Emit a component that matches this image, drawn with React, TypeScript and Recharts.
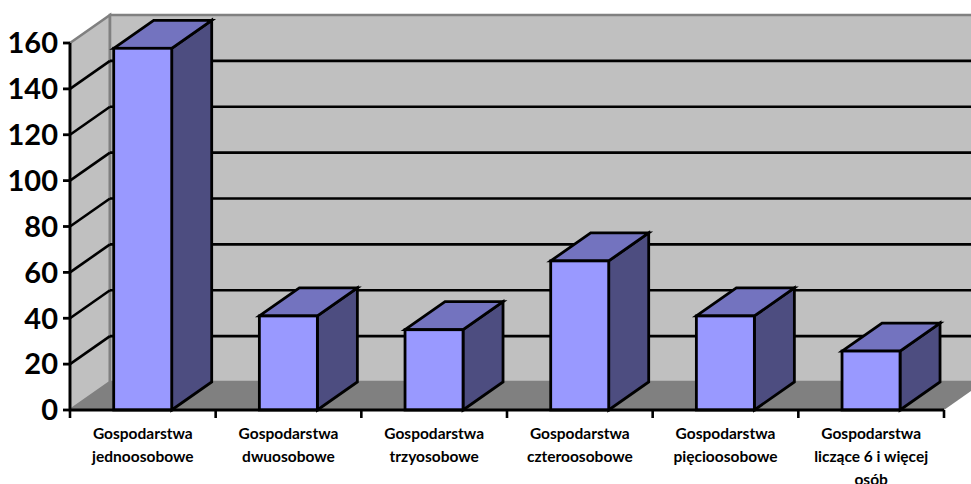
import React from "react";
import { BarChart, Bar, XAxis, YAxis, CartesianGrid } from "recharts";

const categories = [
  ["Gospodarstwa", "jednoosobowe"],
  ["Gospodarstwa", "dwuosobowe"],
  ["Gospodarstwa", "trzyosobowe"],
  ["Gospodarstwa", "czteroosobowe"],
  ["Gospodarstwa", "pięcioosobowe"],
  ["Gospodarstwa", "liczące 6 i więcej", "osób"],
];
const values = [157.7, 41, 35, 65, 41, 25.7];
const yTicks = [0, 20, 40, 60, 80, 100, 120, 140, 160];

const data = categories.map((lines, i) => ({ name: lines.join(" "), lines, value: values[i] }));

const W = 971, H = 484;
const M = { top: 43, right: 27, bottom: 74, left: 70 };
const DX = 40, DY = 28;
const FONT = "Lato, Carlito, 'Open Sans', sans-serif";
const left = M.left, right = W - M.right, top = M.top, bottom = H - M.bottom;
const band = (right - left) / categories.length;

const Walls = () => (
  <g>
    <polygon points={`${left},${top} ${left + DX},${top - DY} ${left + DX},${bottom - DY} ${left},${bottom}`} fill="#C0C0C0" stroke="#808080" strokeWidth={2.6} />
    <polygon points={`${left + DX},${top - DY} ${W + 10},${top - DY} ${W + 10},${bottom - DY} ${left + DX},${bottom - DY}`} fill="#C0C0C0" stroke="#808080" strokeWidth={2.6} />
    <polygon points={`${left},${bottom} ${left + DX},${bottom - DY} ${right + DX},${bottom - DY} ${right},${bottom}`} fill="#808080" />
  </g>
);

const Grid = (p: any) => {
  const { y1, index } = p;
  const isTop = Math.abs(y1 - top) < 1;
  const isBottom = Math.abs(y1 - bottom) < 1;
  return (
    <g key={index}>
      {index === 0 && <Walls />}
      {!isTop && !isBottom && (
        <>
          <line x1={left} y1={y1} x2={left + DX} y2={y1 - DY} stroke="#000" strokeWidth={2.6} />
          <line x1={left + DX} y1={y1 - DY} x2={W + 10} y2={y1 - DY} stroke="#000" strokeWidth={2.6} />
        </>
      )}
    </g>
  );
};

const Box = (p: any) => {
  const { x, y, width: w, height: h } = p;
  return (
    <g stroke="#000" strokeWidth={2.8} strokeLinejoin="miter">
      <polygon points={`${x + w},${y} ${x + w + DX},${y - DY} ${x + w + DX},${y + h - DY} ${x + w},${y + h}`} fill="#4D4D80" />
      <polygon points={`${x},${y} ${x + DX},${y - DY} ${x + w + DX},${y - DY} ${x + w},${y}`} fill="#7373BF" />
      <rect x={x} y={y} width={w} height={h} fill="#9999FF" />
    </g>
  );
};

const XTick = (p: any) => {
  const { x, payload, index } = p;
  const lines = categories[index] || categories[payload.index] || [];
  return (
    <g>
      <line x1={x - band / 2} y1={bottom} x2={x - band / 2} y2={bottom + 8} stroke="#000" strokeWidth={2.6} />
      {index === categories.length - 1 && (
        <line x1={x + band / 2} y1={bottom} x2={x + band / 2} y2={bottom + 8} stroke="#000" strokeWidth={2.6} />
      )}
      {lines.map((t: string, i: number) => (
        <text key={i} x={x} y={bottom + 29 + i * 23} textAnchor="middle" fontFamily={FONT} fontWeight={700} fontSize={15.5} fill="#000">
          {t}
        </text>
      ))}
    </g>
  );
};

export default function App() {
  return (
    <div style={{ position: "absolute", left: 0, top: 0, width: W, height: H, overflow: "hidden", background: "#fff" }}>
      <BarChart width={W} height={H} data={data} margin={{ top: M.top, right: M.right, bottom: 0, left: 0 }} barCategoryGap="30%">
        <CartesianGrid vertical={false} horizontal={Grid as any} stroke="#000" />
        <XAxis dataKey="name" height={M.bottom} interval={0} axisLine={{ stroke: "#000", strokeWidth: 2.8 }} tickLine={false} tick={XTick as any} />
        <YAxis
          width={M.left}
          domain={[0, 160]}
          ticks={yTicks}
          interval={0}
          axisLine={{ stroke: "#000", strokeWidth: 2.8 }}
          tickLine={{ stroke: "#000", strokeWidth: 2.8 }}
          tickSize={7}
          tickMargin={5}
          tick={{ fontFamily: FONT, fontWeight: 700, fontSize: 29, fill: "#000" }}
        />
        <Bar dataKey="value" isAnimationActive={false} shape={Box as any} />
      </BarChart>
    </div>
  );
}
